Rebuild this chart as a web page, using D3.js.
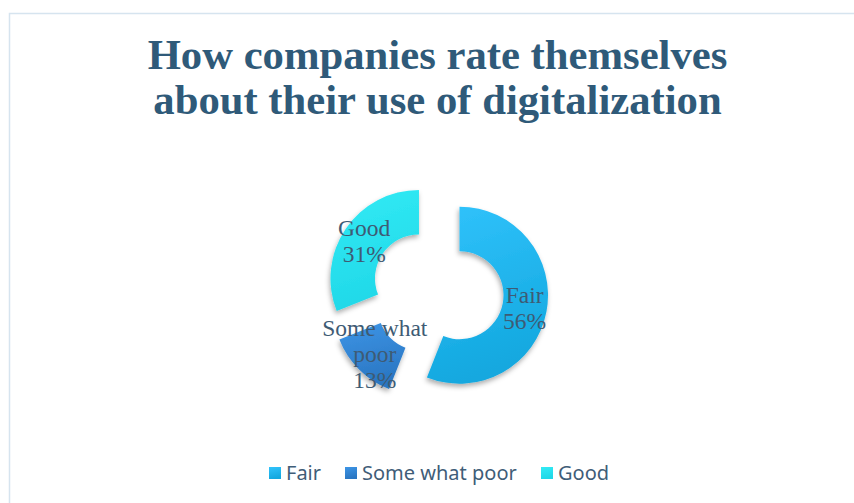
<!DOCTYPE html>
<html>
<head>
<meta charset="utf-8">
<script src="https://cdn.jsdelivr.net/npm/d3@7"></script>
<style>
  html, body { margin: 0; padding: 0; background: #ffffff; }
  svg { display: block; }
</style>
</head>
<body>
<svg id="chart" width="854" height="503"></svg>
<script>
// Survey answers, in the order they run clockwise from 12 o'clock
const categories = ["Fair", "Some what poor", "Good"];
const shares = [56, 13, 31];
const labelLines = [["Fair", "56%"], ["Some what", "poor", "13%"], ["Good", "31%"]];
const titleLines = ["How companies rate themselves", "about their use of digitalization"];

// Two-stop vertical gradients for each slice
const gradTop = ["#31c3fc", "#3d95e6", "#33ebf5"];
const gradBottom = ["#13a8df", "#2a76c2", "#20d8e8"];

const svg = d3.select("#chart");

// Outer frame of the chart area
svg.append("rect")
  .attr("x", 9.5).attr("y", 13.5)
  .attr("width", 900).attr("height", 600)
  .attr("fill", "none")
  .attr("stroke", "#d6e4ef")
  .attr("stroke-width", 1.5);

const defs = svg.append("defs");

const shadow = defs.append("filter")
  .attr("id", "sliceShadow")
  .attr("x", "-30%").attr("y", "-30%")
  .attr("width", "160%").attr("height", "160%");
shadow.append("feDropShadow")
  .attr("dx", -1).attr("dy", 3)
  .attr("stdDeviation", 2.5)
  .attr("flood-color", "#000000")
  .attr("flood-opacity", 0.32);

categories.forEach((c, i) => {
  const g = defs.append("linearGradient")
    .attr("id", "grad" + i)
    .attr("x1", 0).attr("y1", 0)
    .attr("x2", 0.25).attr("y2", 1);
  g.append("stop").attr("offset", "0%").attr("stop-color", gradTop[i]);
  g.append("stop").attr("offset", "100%").attr("stop-color", gradBottom[i]);
});

// Title
const title = svg.append("text")
  .attr("text-anchor", "middle")
  .attr("font-family", "'Liberation Serif', 'Times New Roman', serif")
  .attr("font-weight", "bold")
  .attr("font-size", 42.7)
  .attr("fill", "#2f5a79");
titleLines.forEach((t, i) => {
  title.append("tspan")
    .attr("x", 437.5)
    .attr("y", 69 + i * 45)
    .text(t);
});

// Doughnut
const cx = 437.5, cy = 291;
const outerR = 88.5, innerR = 44;
const explode = 22.4;

const pie = d3.pie().sort(null).value(d => d)
  .startAngle(0).endAngle(2 * Math.PI);
const arcs = pie(shares);
const arc = d3.arc().innerRadius(innerR).outerRadius(outerR);

const donut = svg.append("g").attr("transform", `translate(${cx},${cy})`);

const slices = donut.selectAll("g.slice")
  .data(arcs)
  .join("g")
  .attr("class", "slice")
  .attr("transform", d => {
    const mid = (d.startAngle + d.endAngle) / 2;
    return `translate(${Math.sin(mid) * explode},${-Math.cos(mid) * explode})`;
  });

slices.append("path")
  .attr("d", arc)
  .attr("fill", (d, i) => `url(#grad${i})`)
  .attr("filter", "url(#sliceShadow)");

// Data labels at each slice centroid
const labels = slices.append("text")
  .attr("text-anchor", "middle")
  .attr("font-family", "'Liberation Serif', 'Times New Roman', serif")
  .attr("font-size", 23.5)
  .attr("fill", "#3e5b74")
  .attr("transform", d => `translate(${arc.centroid(d)})`);

const lineH = 26;
labels.each(function (d, i) {
  const lines = labelLines[i];
  const off = -(lines.length - 1) / 2 * lineH;
  d3.select(this).selectAll("tspan")
    .data(lines)
    .join("tspan")
    .attr("x", 0)
    .attr("y", (t, j) => off + j * lineH)
    .attr("dy", "0.35em")
    .text(t => t);
});

// Legend
const legendX = [269, 345, 541];
const legend = svg.append("g");
categories.forEach((c, i) => {
  const item = legend.append("g").attr("transform", `translate(${legendX[i]},473)`);
  item.append("rect")
    .attr("x", 0).attr("y", -6)
    .attr("width", 12).attr("height", 12)
    .attr("fill", `url(#grad${i})`);
  item.append("text")
    .attr("x", 17).attr("y", 0)
    .attr("dy", "0.35em")
    .attr("font-family", "'Noto Sans', 'DejaVu Sans', sans-serif")
    .attr("font-size", 20)
    .attr("fill", "#3f5d78")
    .text(c);
});
</script>
</body>
</html>
